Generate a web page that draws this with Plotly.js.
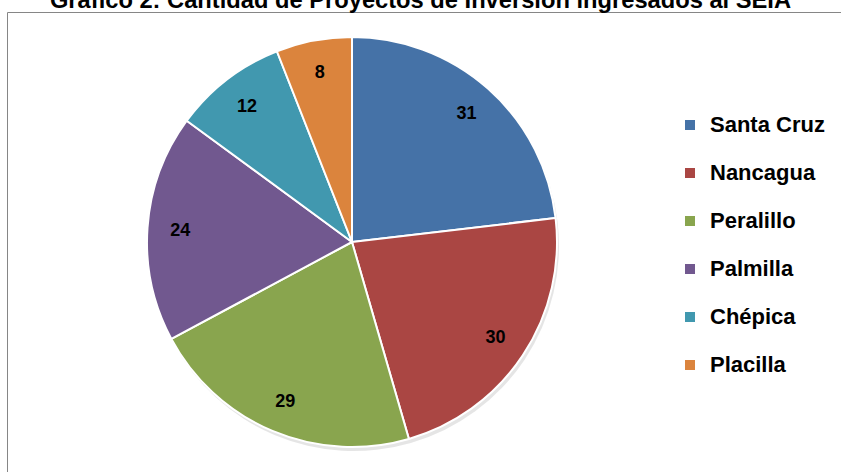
<!DOCTYPE html>
<html>
<head>
<meta charset="utf-8">
<script src="https://cdn.plot.ly/plotly-3.0.1.min.js"></script>
<style>html,body{margin:0;padding:0;background:#fff;}#chart{width:841px;height:472px;}</style>
</head>
<body>
<div id="chart"></div>
<script>
const categories = ["Santa Cruz", "Nancagua", "Peralillo", "Palmilla", "Chépica", "Placilla"];
const proyectos = [31, 30, 29, 24, 12, 8];
const colores = ["#4572A7", "#AA4643", "#89A54E", "#71588F", "#4198AF", "#DB843D"];
const titulo = "Gráfico 2: Cantidad de Proyectos de Inversión ingresados al SEIA";

const W = 841, H = 472;
const FONT = "Liberation Sans, Arial, sans-serif";
const legendLabels = categories.map(c => '<span style="font-size:22px;baseline-shift:5.6px">' + c + '</span>');
const cx = 352, cy = 242, R = 205;
const dom = (dx, dy) => ({ x: [(cx - R + dx) / W, (cx + R + dx) / W], y: [1 - (cy + R + dy) / H, 1 - (cy - R + dy) / H] });

// soft drop shadow under the pie
const shadow = {
  type: "pie",
  labels: legendLabels,
  values: proyectos,
  sort: false,
  direction: "clockwise",
  showlegend: false,
  marker: { colors: colores.map(() => "rgba(0,0,0,0.10)"), line: { width: 0 } },
  textinfo: "none",
  hoverinfo: "skip",
  domain: dom(2, 4)
};

// colored disk with slices and legend
const slices = {
  type: "pie",
  labels: legendLabels,
  values: proyectos,
  sort: false,
  direction: "clockwise",
  rotation: 0,
  marker: { colors: colores, line: { color: "#ffffff", width: 2 } },
  textinfo: "none",
  hoverinfo: "skip",
  domain: dom(0, 0)
};

// transparent ring carrying the value labels toward the outer edge
const labelsRing = {
  type: "pie",
  labels: legendLabels,
  values: proyectos,
  sort: false,
  direction: "clockwise",
  rotation: 0,
  hole: 0.68,
  showlegend: false,
  marker: { colors: colores.map(() => "rgba(0,0,0,0)"), line: { width: 0 } },
  texttemplate: "%{value}",
  textposition: "inside",
  insidetextorientation: "horizontal",
  textfont: { family: FONT, size: 18, color: "#000000", weight: "bold" },
  hoverinfo: "skip",
  domain: dom(0, 0)
};

const layout = {
  width: W, height: H,
  margin: { l: 0, r: 0, t: 0, b: 0 },
  paper_bgcolor: "#ffffff",
  title: {
    text: titulo,
    x: 0.5, xanchor: "center",
    y: 1, yanchor: "middle", yref: "container",
    font: { family: FONT, size: 23.7, color: "#000000", weight: "bold" }
  },
  showlegend: true,
  legend: {
    x: 670 / W, xanchor: "left",
    y: 1 - 96 / H, yanchor: "top",
    font: { family: FONT, size: 34.6, color: "#000000", weight: "bold" },
    bgcolor: "rgba(0,0,0,0)"
  },
  shapes: [{
    type: "rect", xref: "paper", yref: "paper",
    x0: 7.5 / W, x1: 1.05, y0: -0.05, y1: 1 - 12.5 / H,
    line: { color: "#868686", width: 1 }, fillcolor: "rgba(0,0,0,0)", layer: "below"
  }]
};

Plotly.newPlot("chart", [shadow, slices, labelsRing], layout, { displayModeBar: false, staticPlot: true });
</script>
</body>
</html>
